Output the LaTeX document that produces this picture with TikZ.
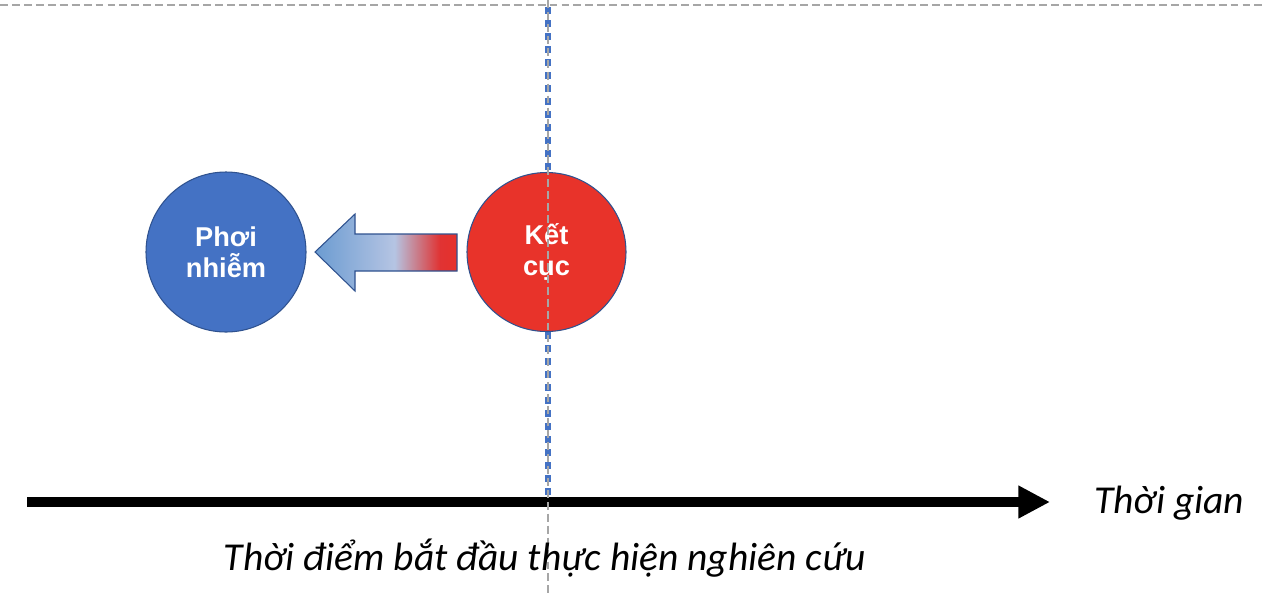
\documentclass[tikz,border=0pt]{standalone}
\usepackage{fontspec}
\setmainfont{Carlito}
\newfontfamily\bubblefont{Liberation Sans}
\usetikzlibrary{arrows.meta,positioning,calc}
\definecolor{Fill}{HTML}{4472C4}
\definecolor{Edge}{HTML}{2F528F}
\definecolor{Hot}{HTML}{E8332A}
\definecolor{Guide}{HTML}{A6A6A6}
\definecolor{Mark}{HTML}{4472C4}
\pgfdeclarehorizontalshading{fade}{100bp}{rgb(0bp)=(0.42,0.61,0.82); rgb(25bp)=(0.42,0.61,0.82); rgb(53bp)=(0.71,0.77,0.89); rgb(60bp)=(0.78,0.52,0.58); rgb(69bp)=(0.88,0.2,0.2); rgb(75bp)=(0.9,0.19,0.17); rgb(100bp)=(0.9,0.19,0.17)}
\tikzset{
 every node/.style={text=black},
 bubble/.style={circle,draw=Edge,line width=.6pt,minimum size=#1,inner sep=0pt,align=center,
  text=white,font=\bubblefont\fontsize{15.5}{17.6}\selectfont\bfseries},
 guide/.style={Guide,line width=.7pt,dash pattern=on 4.5pt off 2.3pt},
 startline/.style={Mark,line width=3.4pt,dash pattern=on 4pt off 3.4pt},
 timeaxis/.style={line width=5.7pt,-{Triangle[length=18pt,width=17.5pt]}},
 lbl/.style={font=\fontsize{22.5}{26}\selectfont\itshape},
 }
\begin{document}
\begin{tikzpicture}[x=0.02cm,y=-0.02cm]
 \useasboundingbox (0,0) rectangle (1264,596);
 \draw[guide] (0,5)--(1264,5);
 \coordinate (topm) at (548,7);
 \coordinate (axL) at (27,502);
 \coordinate (axR) at (1050,502);
 \draw[startline] (topm)--(548,500);
 % circles
 \node[bubble=160*0.02cm,fill=Fill] (expo) at (226,252) {Phơi\\nhiễm};
 \node[bubble=159*0.02cm,fill=Hot] (outc) at (546.5,252) {Kết\\cục};
 % block arrow
 \draw[Edge,line width=.6pt,shading=fade]
  (315,252)--(355,214)--(355,234)--(457,234)--(457,271)--(355,271)--(355,291)--cycle;
 \draw[timeaxis] (axL)--(axR);
 \draw[guide] (548,0)--(548,596);
 \node[lbl,anchor=base west] (tlbl) at (1088,513) {Thời gian};
 \node[lbl,anchor=base] (slbl) at (545,570) {Thời điểm bắt đầu thực hiện nghiên cứu};
\end{tikzpicture}
\end{document}
